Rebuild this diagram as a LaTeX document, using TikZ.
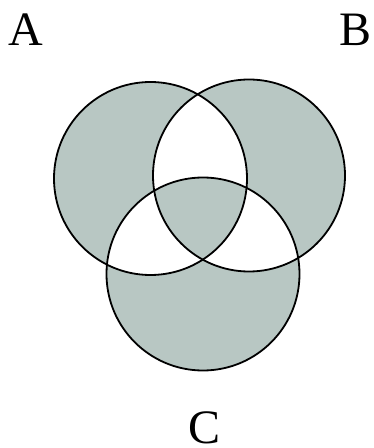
\documentclass[tikz,border=0pt]{standalone}
\usepackage{fontspec}
\setmainfont{Liberation Serif}
\usepackage{xcolor}
\usetikzlibrary{positioning}
\definecolor{cShade}{HTML}{B8C7C3}
\definecolor{cInk}{HTML}{000000}
\tikzset{
  setfill/.style={fill=cShade,even odd rule},
  setline/.style={draw=cInk,line width=1.8pt},
  setlbl/.style={font=\fontsize{48}{50}\selectfont,text=cInk,inner sep=0pt},
}
\begin{document}
\begin{tikzpicture}[x=1pt,y=1pt]
  \useasboundingbox (0,0) rectangle (373,448);
  \coordinate (cA) at (150.5,269.5);
  \coordinate (cB) at (249,272.5);
  \coordinate (cC) at (203,174);
  % odd number of sets shaded
  \path[setfill] (cA) circle[radius=96.5pt] (cB) circle[radius=96pt] (cC) circle[radius=96.5pt];
  \draw[setline] (cA) circle[radius=96.5pt];
  \draw[setline] (cB) circle[radius=96pt];
  \draw[setline] (cC) circle[radius=96.5pt];
  \node[setlbl,anchor=base] (lA) at (25.5,402) {A};
  \node[setlbl,anchor=base] (lB) at (356,402) {B};
  \node[setlbl,anchor=base] (lC) at (204.5,5) {C};
\end{tikzpicture}
\end{document}
